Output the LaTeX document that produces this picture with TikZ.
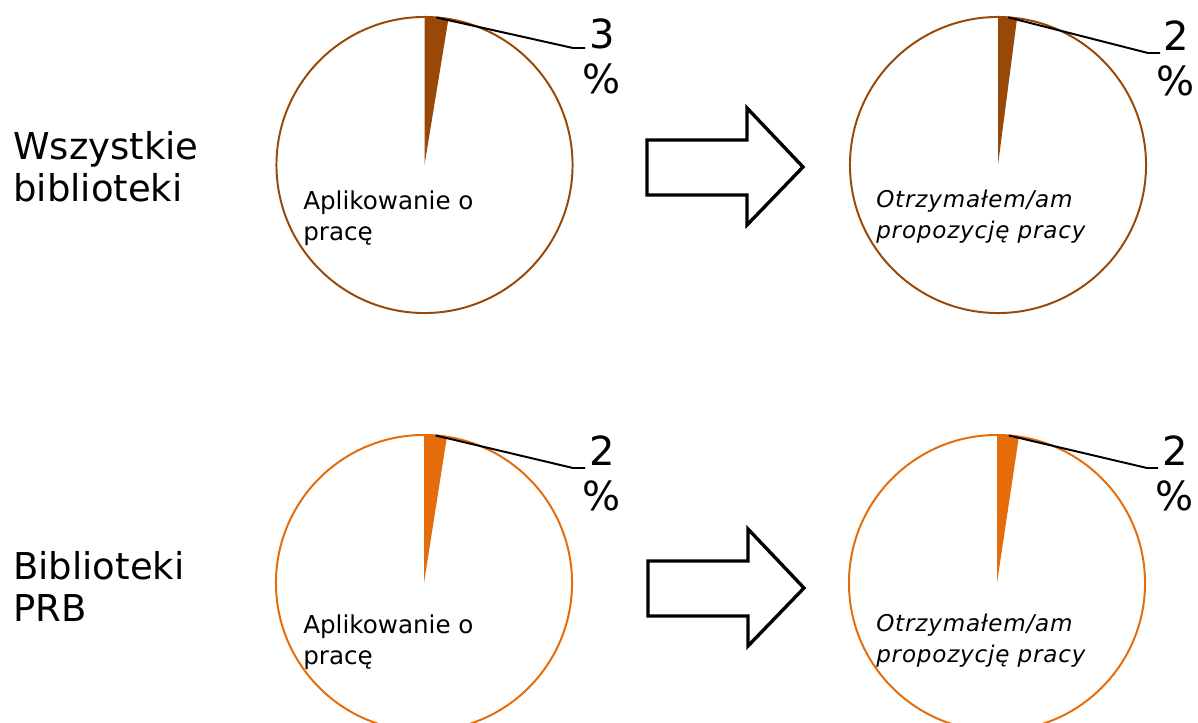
\documentclass[tikz,border=0pt]{standalone}
\usepackage{fontspec}
\setmainfont{DejaVu Sans}
\newfontfamily\spacedsans[LetterSpace=3.5]{DejaVu Sans}
\usetikzlibrary{positioning, calc}
\definecolor{piebrown}{HTML}{984807}
\definecolor{pieorange}{HTML}{E46C0A}

\begin{document}
\begin{tikzpicture}[x=0.025cm, y=0.025cm,
        pie/.style={circle, draw=#1, line width=1.4pt, minimum size=7.4cm, inner sep=0pt, outer sep=0pt},
        leader/.style={draw=black, line width=1.4pt},
        pct/.style={align=center, inner sep=0pt, anchor=base, font=\fontsize{28.5}{32}\selectfont},
        rowlabel/.style={align=left, inner sep=0pt, anchor=base west, font=\fontsize{26.3}{29.2}\selectfont},
        applabel/.style={align=left, inner sep=0pt, anchor=base west, font=\fontsize{17.5}{22}\selectfont},
        offerlabel/.style={align=left, inner sep=0pt, anchor=base west, font=\spacedsans\itshape\fontsize{16.4}{21.5}\selectfont},
        bigarrow/.style={draw=black, line width=2.4pt, fill=white, line join=miter}]
        \clip (0,0) rectangle (1198,-723);
        % row labels
        \node[rowlabel] (rowA) at (13,-201) {Wszystkie\\biblioteki};
        \node[rowlabel] (rowB) at (13,-621) {Biblioteki\\PRB};
        % pies
        \node[pie=piebrown] (pieA) at (424.5,-165) {};
        \node[pie=piebrown] (pieB) at (998,-165) {};
        \node[pie=pieorange] (pieC) at (424,-583) {};
        \node[pie=pieorange] (pieD) at (997,-583) {};
        \fill[piebrown] (pieA.center) -- ++(90:148) arc[start angle=90, end angle=80.7, radius=148] -- cycle;
        \fill[piebrown] (pieB.center) -- ++(90:148) arc[start angle=90, end angle=82.6, radius=148] -- cycle;
        \fill[pieorange] (pieC.center) -- ++(90:148) arc[start angle=90, end angle=81.1, radius=148] -- cycle;
        \fill[pieorange] (pieD.center) -- ++(90:148) arc[start angle=90, end angle=81.5, radius=148] -- cycle;
        % texts inside
        \node[applabel] (appA) at (303,-240) {Aplikowanie o\\pracę};
        \node[applabel] (appC) at (303,-664) {Aplikowanie o\\pracę};
        \node[offerlabel] (offB) at (876,-238) {Otrzymałem/am\\propozycję pracy};
        \node[offerlabel] (offD) at (876,-662) {Otrzymałem/am\\propozycję pracy};
        % percentages
        \node[pct] (pctA) at (602,-93) {3\\\%};
        \node[pct] (pctB) at (1176,-95) {2\\\%};
        \node[pct] (pctC) at (602,-510) {2\\\%};
        \node[pct] (pctD) at (1175,-510) {2\\\%};
        \coordinate (tipA) at ($(pieA.center)+(85.4:148)$);
        \coordinate (tipB) at ($(pieB.center)+(86.1:148)$);
        \coordinate (tipC) at ($(pieC.center)+(85.5:148)$);
        \coordinate (tipD) at ($(pieD.center)+(85.4:148)$);
        \coordinate (elbA) at (573,-48);
        \coordinate (elbB) at (1148,-53);
        \coordinate (elbC) at (573,-468);
        \coordinate (elbD) at (1147,-468);
        \draw[leader] (tipA) -- (elbA) -- ++(12,0);
        \draw[leader] (tipB) -- (elbB) -- ++(12,0);
        \draw[leader] (tipC) -- (elbC) -- ++(12,0);
        \draw[leader] (tipD) -- (elbD) -- ++(11,0);
        % arrows
        \coordinate (arrA) at (647,-167.5);
        \coordinate (arrC) at (648,-588.5);
        \draw[bigarrow] (arrA) ++(0,27.5) -- ++(100,0) -- ++(0,32) -- ++(56,-59) -- ++(-56,-58) -- ++(0,30) -- ++(-100,0) -- cycle;
        \draw[bigarrow] (arrC) ++(0,27.5) -- ++(100,0) -- ++(0,32) -- ++(56,-59) -- ++(-56,-58) -- ++(0,30) -- ++(-100,0) -- cycle;
    \end{tikzpicture}
\end{document}
